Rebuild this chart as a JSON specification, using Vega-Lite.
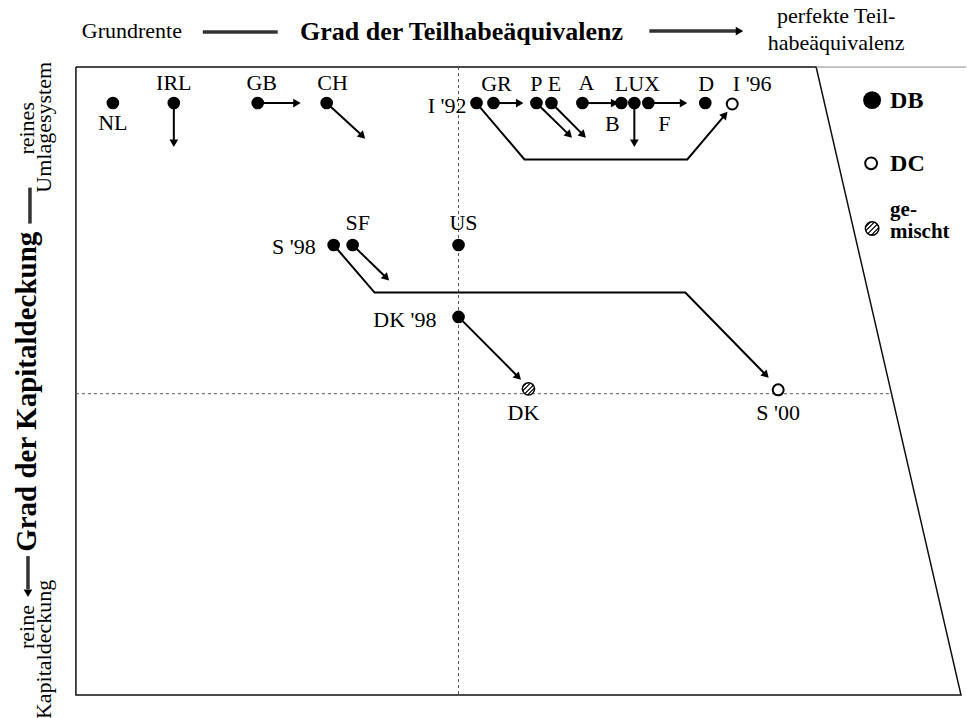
{
  "$schema": "https://vega.github.io/schema/vega-lite/v6.json",
  "width": 967,
  "height": 718,
  "padding": 0,
  "autosize": {"type": "fit", "contains": "padding"},
  "background": "white",
  "config": {"view": {"stroke": null}, "text": {"font": "Liberation Serif"}},
  "datasets": {
    "frame": [
      {"x": 76, "y": 69, "o": 1}, {"x": 817, "y": 69, "o": 2}, {"x": 962, "y": 715, "o": 3},
      {"x": 76, "y": 715, "o": 4}, {"x": 76, "y": 69, "o": 5}
    ],
    "guides": [
      {"x": 459, "y": 69, "x2": 459, "y2": 715},
      {"x": 76, "y": 405, "x2": 893, "y2": 405}
    ],
    "segments": [
      {"x": 174, "y": 106, "x2": 174, "y2": 146},
      {"x": 258, "y": 106, "x2": 296, "y2": 106},
      {"x": 327, "y": 106, "x2": 363, "y2": 140},
      {"x": 494, "y": 106, "x2": 519, "y2": 106},
      {"x": 537, "y": 106, "x2": 570, "y2": 139},
      {"x": 552, "y": 106, "x2": 584, "y2": 139},
      {"x": 583, "y": 106, "x2": 614, "y2": 106},
      {"x": 635, "y": 106, "x2": 635, "y2": 146},
      {"x": 649, "y": 106, "x2": 683, "y2": 106},
      {"x": 353, "y": 252, "x2": 387, "y2": 286},
      {"x": 459, "y": 326, "x2": 519, "y2": 388}
    ],
    "paths": [
      {"p": "I", "o": 1, "x": 477, "y": 106}, {"p": "I", "o": 2, "x": 525, "y": 164},
      {"p": "I", "o": 3, "x": 688, "y": 164}, {"p": "I", "o": 4, "x": 726, "y": 118},
      {"p": "S", "o": 1, "x": 334, "y": 252}, {"p": "S", "o": 2, "x": 375, "y": 301},
      {"p": "S", "o": 3, "x": 686, "y": 301}, {"p": "S", "o": 4, "x": 767, "y": 386}
    ],
    "heads": [
      {"x": 174, "y": 146, "a": 180}, {"x": 296, "y": 106, "a": 90}, {"x": 362, "y": 139, "a": 135},
      {"x": 519, "y": 106, "a": 90}, {"x": 569, "y": 138, "a": 135}, {"x": 583, "y": 138, "a": 135},
      {"x": 614, "y": 106, "a": 90}, {"x": 635, "y": 146, "a": 180}, {"x": 683, "y": 106, "a": 90},
      {"x": 386, "y": 285, "a": 135}, {"x": 518, "y": 387, "a": 135},
      {"x": 725, "y": 119, "a": 40}, {"x": 766, "y": 385, "a": 136},
      {"x": 739, "y": 32, "a": 90}, {"x": 28, "y": 609, "a": 180}
    ],
    "axislines": [
      {"x": 203, "y": 33, "x2": 278, "y2": 33},
      {"x": 650, "y": 32, "x2": 738, "y2": 32},
      {"x": 30, "y": 193, "x2": 30, "y2": 230},
      {"x": 28, "y": 572, "x2": 28, "y2": 606}
    ],
    "dots": [
      {"k": "DB", "x": 113, "y": 106}, {"k": "DB", "x": 174, "y": 106}, {"k": "DB", "x": 258, "y": 106},
      {"k": "DB", "x": 327, "y": 106}, {"k": "DB", "x": 477, "y": 106}, {"k": "DB", "x": 494, "y": 106},
      {"k": "DB", "x": 537, "y": 106}, {"k": "DB", "x": 552, "y": 106}, {"k": "DB", "x": 583, "y": 106},
      {"k": "DB", "x": 622, "y": 106}, {"k": "DB", "x": 635, "y": 106}, {"k": "DB", "x": 649, "y": 106},
      {"k": "DB", "x": 706, "y": 106}, {"k": "DB", "x": 334, "y": 252}, {"k": "DB", "x": 353, "y": 252},
      {"k": "DB", "x": 459, "y": 252}, {"k": "DB", "x": 459, "y": 326},
      {"k": "DC", "x": 733, "y": 107}, {"k": "DC", "x": 779, "y": 401},
      {"k": "MIX", "x": 529, "y": 400}
    ],
    "legend": [
      {"k": "DB", "x": 873, "y": 103}, {"k": "DC", "x": 872, "y": 168}, {"k": "MIX", "x": 873, "y": 235}
    ],
    "labels": [
      {"t": "NL", "x": 113, "y": 127, "al": "center"},
      {"t": "IRL", "x": 174, "y": 85, "al": "center"},
      {"t": "GB", "x": 262, "y": 85, "al": "center"},
      {"t": "CH", "x": 333, "y": 85, "al": "center"},
      {"t": "I '92", "x": 467, "y": 109, "al": "right"},
      {"t": "GR", "x": 497, "y": 86, "al": "center"},
      {"t": "P", "x": 537, "y": 86, "al": "center"},
      {"t": "E", "x": 555, "y": 86, "al": "center"},
      {"t": "A", "x": 587, "y": 85, "al": "center"},
      {"t": "LUX", "x": 638, "y": 86, "al": "center"},
      {"t": "D", "x": 707, "y": 86, "al": "center"},
      {"t": "I '96", "x": 753, "y": 86, "al": "center"},
      {"t": "B", "x": 613, "y": 128, "al": "center"},
      {"t": "F", "x": 665, "y": 128, "al": "center"},
      {"t": "SF", "x": 358, "y": 229, "al": "center"},
      {"t": "US", "x": 464, "y": 229, "al": "center"},
      {"t": "S '98", "x": 316, "y": 254, "al": "right"},
      {"t": "DK '98", "x": 437, "y": 329, "al": "right"},
      {"t": "DK", "x": 524, "y": 425, "al": "center"},
      {"t": "S '00", "x": 779, "y": 425, "al": "center"},
      {"t": "Grundrente", "x": 132, "y": 32, "al": "center"},
      {"t": "perfekte Teil-", "x": 837, "y": 16, "al": "center"},
      {"t": "habeäquivalenz", "x": 837, "y": 44, "al": "center"}
    ],
    "vlabels": [
      {"t": "reines", "x": 27, "y": 132},
      {"t": "Umlagesystem", "x": 44, "y": 131},
      {"t": "reine", "x": 27, "y": 645},
      {"t": "Kapitaldeckung", "x": 44, "y": 668}
    ]
  },
  "encoding": {
    "x": {"field": "x", "type": "quantitative", "scale": {"domain": [0, 967], "zero": false, "nice": false}, "axis": null},
    "y": {"field": "y", "type": "quantitative", "scale": {"domain": [0, 718], "zero": false, "nice": false, "reverse": true}, "axis": null}
  },
  "layer": [
    {
      "data": {"name": "frame"},
      "mark": {"type": "line", "color": "#111", "strokeWidth": 1.5},
      "encoding": {"order": {"field": "o", "type": "quantitative"}}
    },
    {
      "data": {"values": [{"x": 817, "y": 69, "x2": 967}]},
      "mark": {"type": "rule", "color": "#888", "strokeWidth": 1},
      "encoding": {"x2": {"field": "x2"}}
    },
    {
      "data": {"name": "guides"},
      "mark": {"type": "rule", "color": "#555", "strokeWidth": 1, "strokeDash": [3, 3]},
      "encoding": {"x2": {"field": "x2"}, "y2": {"field": "y2"}}
    },
    {
      "data": {"name": "segments"},
      "mark": {"type": "rule", "color": "black", "strokeWidth": 2},
      "encoding": {"x2": {"field": "x2"}, "y2": {"field": "y2"}}
    },
    {
      "data": {"name": "axislines"},
      "mark": {"type": "rule", "color": "#333", "strokeWidth": 3.5},
      "encoding": {"x2": {"field": "x2"}, "y2": {"field": "y2"}}
    },
    {
      "data": {"name": "paths"},
      "mark": {"type": "line", "color": "black", "strokeWidth": 2, "strokeJoin": "miter"},
      "encoding": {"detail": {"field": "p"}, "order": {"field": "o", "type": "quantitative"}}
    },
    {
      "data": {"name": "heads"},
      "mark": {"type": "point", "shape": "triangle", "filled": true, "color": "black", "opacity": 1, "size": 75},
      "encoding": {"angle": {"field": "a", "type": "quantitative", "scale": null}}
    },
    {
      "data": {"name": "dots"},
      "transform": [{"filter": "datum.k === 'DB'"}],
      "mark": {"type": "circle", "color": "black", "opacity": 1, "size": 160}
    },
    {
      "data": {"name": "dots"},
      "transform": [{"filter": "datum.k === 'DC'"}],
      "mark": {"type": "point", "shape": "circle", "fill": "white", "stroke": "black", "strokeWidth": 2, "opacity": 1, "size": 120}
    },
    {
      "data": {"name": "dots"},
      "transform": [{"filter": "datum.k === 'MIX'"}],
      "mark": {"type": "point", "shape": "circle", "stroke": "black", "strokeWidth": 1.5, "opacity": 1, "size": 150,
        "fill": {"gradient": "linear", "x1": 0, "y1": 0, "x2": 1, "y2": 1, "stops": [
          {"offset": 0, "color": "#fff"}, {"offset": 0.14, "color": "#fff"}, {"offset": 0.14, "color": "#333"}, {"offset": 0.22, "color": "#333"},
          {"offset": 0.22, "color": "#fff"}, {"offset": 0.32, "color": "#fff"}, {"offset": 0.32, "color": "#333"}, {"offset": 0.4, "color": "#333"},
          {"offset": 0.4, "color": "#fff"}, {"offset": 0.5, "color": "#fff"}, {"offset": 0.5, "color": "#333"}, {"offset": 0.58, "color": "#333"},
          {"offset": 0.58, "color": "#fff"}, {"offset": 0.68, "color": "#fff"}, {"offset": 0.68, "color": "#333"}, {"offset": 0.76, "color": "#333"},
          {"offset": 0.76, "color": "#fff"}, {"offset": 0.86, "color": "#fff"}, {"offset": 0.86, "color": "#333"}, {"offset": 0.94, "color": "#333"},
          {"offset": 0.94, "color": "#fff"}, {"offset": 1, "color": "#fff"}]}}
    },
    {
      "data": {"name": "legend"},
      "transform": [{"filter": "datum.k === 'DB'"}],
      "mark": {"type": "circle", "color": "black", "opacity": 1, "size": 320}
    },
    {
      "data": {"name": "legend"},
      "transform": [{"filter": "datum.k === 'DC'"}],
      "mark": {"type": "point", "shape": "circle", "fill": "white", "stroke": "black", "strokeWidth": 2, "opacity": 1, "size": 140}
    },
    {
      "data": {"name": "legend"},
      "transform": [{"filter": "datum.k === 'MIX'"}],
      "mark": {"type": "point", "shape": "circle", "stroke": "black", "strokeWidth": 1.5, "opacity": 1, "size": 180,
        "fill": {"gradient": "linear", "x1": 0, "y1": 0, "x2": 1, "y2": 1, "stops": [
          {"offset": 0, "color": "#fff"}, {"offset": 0.14, "color": "#fff"}, {"offset": 0.14, "color": "#333"}, {"offset": 0.22, "color": "#333"},
          {"offset": 0.22, "color": "#fff"}, {"offset": 0.32, "color": "#fff"}, {"offset": 0.32, "color": "#333"}, {"offset": 0.4, "color": "#333"},
          {"offset": 0.4, "color": "#fff"}, {"offset": 0.5, "color": "#fff"}, {"offset": 0.5, "color": "#333"}, {"offset": 0.58, "color": "#333"},
          {"offset": 0.58, "color": "#fff"}, {"offset": 0.68, "color": "#fff"}, {"offset": 0.68, "color": "#333"}, {"offset": 0.76, "color": "#333"},
          {"offset": 0.76, "color": "#fff"}, {"offset": 0.86, "color": "#fff"}, {"offset": 0.86, "color": "#333"}, {"offset": 0.94, "color": "#333"},
          {"offset": 0.94, "color": "#fff"}, {"offset": 1, "color": "#fff"}]}}
    },
    {
      "data": {"values": [{"t": "DB", "x": 891, "y": 104}, {"t": "DC", "x": 891, "y": 169}]},
      "mark": {"type": "text", "fontSize": 24, "fontWeight": "bold", "align": "left", "baseline": "middle", "color": "black"},
      "encoding": {"text": {"field": "t"}}
    },
    {
      "data": {"values": [{"t": "ge-", "x": 891, "y": 216}, {"t": "mischt", "x": 891, "y": 239}]},
      "mark": {"type": "text", "fontSize": 21, "fontWeight": "bold", "align": "left", "baseline": "middle", "color": "black"},
      "encoding": {"text": {"field": "t"}}
    },
    {
      "data": {"name": "labels"},
      "transform": [{"filter": "datum.al === 'center'"}],
      "mark": {"type": "text", "fontSize": 22, "align": "center", "baseline": "middle", "color": "black"},
      "encoding": {"text": {"field": "t"}}
    },
    {
      "data": {"name": "labels"},
      "transform": [{"filter": "datum.al === 'right'"}],
      "mark": {"type": "text", "fontSize": 22, "align": "right", "baseline": "middle", "color": "black"},
      "encoding": {"text": {"field": "t"}}
    },
    {
      "data": {"values": [{"t": "Grad der Teilhabeäquivalenz", "x": 462, "y": 33}]},
      "mark": {"type": "text", "fontSize": 26, "fontWeight": "bold", "align": "center", "baseline": "middle", "color": "black"},
      "encoding": {"text": {"field": "t"}}
    },
    {
      "data": {"values": [{"t": "Grad der Kapitaldeckung", "x": 27, "y": 403}]},
      "mark": {"type": "text", "fontSize": 29, "fontWeight": "bold", "align": "center", "baseline": "middle", "angle": 270, "color": "black"},
      "encoding": {"text": {"field": "t"}}
    },
    {
      "data": {"name": "vlabels"},
      "mark": {"type": "text", "fontSize": 22, "align": "center", "baseline": "middle", "angle": 270, "color": "black"},
      "encoding": {"text": {"field": "t"}}
    }
  ]
}
